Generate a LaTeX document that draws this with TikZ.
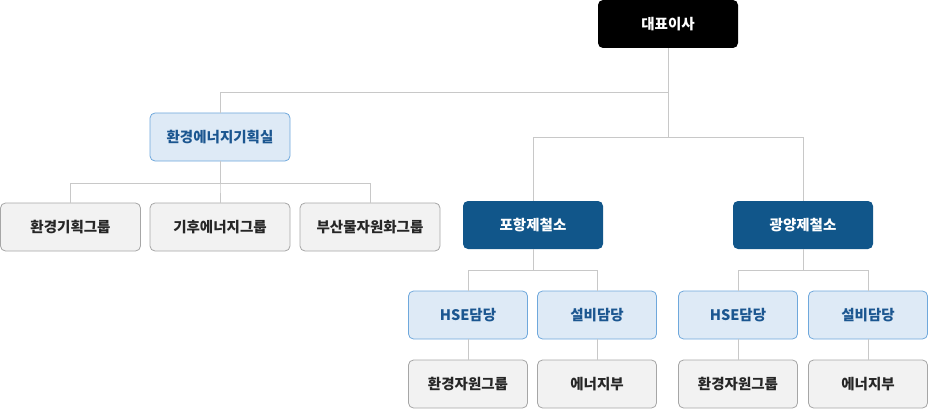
\documentclass[tikz,border=0pt]{standalone}
\usepackage{fontspec}
\setmainfont{Noto Sans CJK KR}
\usepackage{tikz}
\usetikzlibrary{positioning}
\definecolor{lineg}{HTML}{C8C8C8}
\definecolor{steelb}{HTML}{11568A}
\definecolor{paleb}{HTML}{DEEAF6}
\definecolor{edgeb}{HTML}{6FA8DC}
\definecolor{textb}{HTML}{1B5690}
\definecolor{paleg}{HTML}{F2F2F2}
\definecolor{edgeg}{HTML}{A6A6A6}
\tikzset{
  unit/.style={rectangle,rounded corners=5pt,minimum height=48pt,
               minimum width=140pt,font=\bfseries\fontsize{14.5}{16}\selectfont},
  ceobox/.style={unit,fill=black,text=white},
  worksbox/.style={unit,fill=steelb,text=white},
  deptbox/.style={unit,fill=paleb,draw=edgeb,line width=0.8pt,text=textb},
  groupbox/.style={unit,fill=paleg,draw=edgeg,line width=0.8pt,text=black!85},
  narrow/.style={minimum width=119pt},
  link/.style={draw=lineg,line width=0.8pt}
}
\begin{document}
\begin{tikzpicture}[on grid]
   \useasboundingbox (0,0) rectangle (928pt,-409pt);
   \node[ceobox] (ceo) at (668pt,-24pt) {대표이사};
   \node[deptbox] (plan) [below left=113pt and 448pt of ceo] {환경에너지기획실};
   \node[groupbox] (plan_1) [below left=90pt and 149.5pt of plan] {환경기획그룹};
   \node[groupbox] (plan_2) [below=90pt of plan] {기후에너지그룹};
   \node[groupbox] (plan_3) [below right=90pt and 150pt of plan] {부산물자원화그룹};
   \node[worksbox] (pohang) [below left=201pt and 135pt of ceo] {포항제철소};
   \node[worksbox] (gwang) [right=270pt of pohang] {광양제철소};
   % second row of each works
   \node[deptbox,narrow] (pohang_hse) [below left=90pt and 65pt of pohang] {HSE담당};
   \node[deptbox,narrow] (pohang_fac) [below right=90pt and 64pt of pohang] {설비담당};
   \node[deptbox,narrow] (gwang_hse) [below left=90pt and 65pt of gwang] {HSE담당};
   \node[deptbox,narrow] (gwang_fac) [below right=90pt and 65pt of gwang] {설비담당};
   \node[groupbox,narrow] (pohang_res) [below=69pt of pohang_hse] {환경자원그룹};
   \node[groupbox,narrow] (pohang_en) [below=69pt of pohang_fac] {에너지부};
   \node[groupbox,narrow] (gwang_res) [below=69pt of gwang_hse] {환경자원그룹};
   \node[groupbox,narrow] (gwang_en) [below=69pt of gwang_fac] {에너지부};
   % connectors
   \path[link] (ceo.south) -- ++(0,-44pt) -| (plan.north);
   \foreach \w in {pohang,gwang}
     \path[link] (ceo.south) -- ++(0,-89pt) -| (\w.north);
   \foreach \g in {plan_1,plan_2,plan_3}
     \path[link] (plan.south) -- ++(0,-22pt) -| (\g.north);
   \foreach \w in {pohang,gwang} {
     \path[link] (\w.south) -- ++(0,-21pt) -| (\w_hse.north);
     \path[link] (\w.south) -- ++(0,-21pt) -| (\w_fac.north);
     \path[link] (\w_hse.south) -- (\w_res.north);
     \path[link] (\w_fac.south) -- (\w_en.north);
   }
\end{tikzpicture}
\end{document}
